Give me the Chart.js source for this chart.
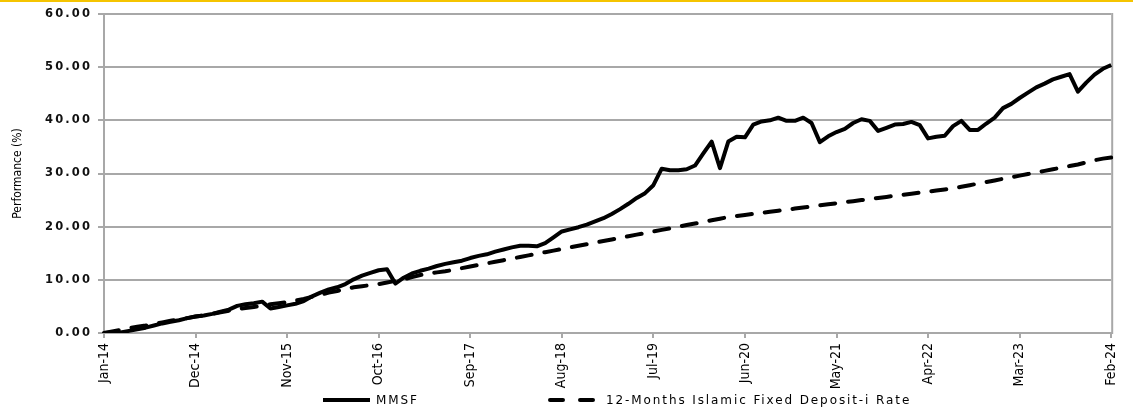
<!DOCTYPE html>
<html>
<head>
<meta charset="utf-8">
<script src="https://cdn.jsdelivr.net/npm/chart.js@4.4.1/dist/chart.umd.min.js"></script>
<style>
  html, body { margin: 0; padding: 0; background: #fff; }
  #wrap { position: relative; width: 1133px; height: 409px; }
  #topBar { position: absolute; left: 0; top: 0; width: 1133px; height: 2px; background: #f5c400; }
  canvas { position: absolute; left: 0; top: 0; }
</style>
</head>
<body>
<div id="wrap">
  <canvas id="perfChart" width="1133" height="409"></canvas>
  <div id="topBar"></div>
</div>
<script>
  // series names
  const seriesNames = ['MMSF', '12-Months Islamic Fixed Deposit-i Rate'];

  // labelled ticks on the x axis
  const tickLabels = ['Jan-14', 'Dec-14', 'Nov-15', 'Oct-16', 'Sep-17', 'Aug-18',
                      'Jul-19', 'Jun-20', 'May-21', 'Apr-22', 'Mar-23', 'Feb-24'];

  // y axis ticks
  const yTicks = [0, 10, 20, 30, 40, 50, 60];

  // cumulative performance (%), monthly Jan-14 .. Feb-24
  const mmsf = [
    0.0, 0.1, 0.1, 0.4, 0.7, 1.0, 1.4, 1.8, 2.1, 2.4,
    2.8, 3.1, 3.3, 3.6, 4.0, 4.4, 5.1, 5.4, 5.6, 5.9,
    4.6, 4.9, 5.2, 5.5, 6.0, 6.9, 7.6, 8.2, 8.6, 9.2,
    10.1, 10.8, 11.3, 11.8, 12.0, 9.3, 10.4, 11.2, 11.7, 12.1,
    12.6, 13.0, 13.3, 13.6, 14.1, 14.5, 14.8, 15.3, 15.7, 16.1,
    16.4, 16.4, 16.3, 16.9, 18.0, 19.1, 19.5, 19.9, 20.4, 21.0,
    21.6, 22.4, 23.3, 24.3, 25.4, 26.3, 27.8, 30.9, 30.6, 30.6,
    30.8, 31.5, 33.8, 36.0, 31.0, 36.0, 36.9, 36.8, 39.2, 39.8,
    40.0, 40.5, 39.9, 39.9, 40.5, 39.5, 35.9, 37.0, 37.8, 38.4,
    39.5, 40.2, 39.9, 38.0, 38.6, 39.2, 39.3, 39.7, 39.1, 36.6,
    36.9, 37.1, 38.9, 39.9, 38.2, 38.2, 39.4, 40.5, 42.3, 43.1,
    44.2, 45.2, 46.2, 46.9, 47.7, 48.2, 48.7, 45.4, 47.1, 48.6,
    49.7, 50.4
  ];

  const fdRate = [
    0.0, 0.3, 0.6, 0.9, 1.2, 1.4, 1.7, 2.0, 2.3, 2.6,
    2.8, 3.1, 3.3, 3.6, 3.9, 4.2, 4.5, 4.7, 4.9, 5.1,
    5.4, 5.6, 5.8, 6.1, 6.4, 6.8, 7.2, 7.6, 7.9, 8.3,
    8.6, 8.8, 9.0, 9.2, 9.5, 9.8, 10.1, 10.5, 10.9, 11.2,
    11.4, 11.6, 11.9, 12.2, 12.5, 12.8, 13.1, 13.4, 13.7, 14.0,
    14.3, 14.6, 14.9, 15.2, 15.5, 15.8, 16.1, 16.4, 16.7, 17.0,
    17.3, 17.6, 17.9, 18.2, 18.5, 18.8, 19.1, 19.4, 19.7, 20.0,
    20.3, 20.6, 20.9, 21.2, 21.5, 21.8, 22.0, 22.2, 22.4, 22.6,
    22.8, 23.0, 23.2, 23.4, 23.6, 23.8, 24.0, 24.2, 24.4, 24.6,
    24.8, 25.0, 25.2, 25.4, 25.6, 25.8, 26.0, 26.2, 26.4, 26.6,
    26.8, 27.0, 27.2, 27.5, 27.8, 28.1, 28.4, 28.7, 29.0, 29.3,
    29.6, 29.9, 30.2, 30.5, 30.8, 31.1, 31.4, 31.7, 32.1, 32.5,
    32.8, 33.0
  ];

  const monthNames = ['Jan', 'Feb', 'Mar', 'Apr', 'May', 'Jun', 'Jul', 'Aug', 'Sep', 'Oct', 'Nov', 'Dec'];
  const months = mmsf.map((_, i) => monthNames[i % 12] + '-' + (14 + Math.floor(i / 12)));

  const gridGrey = '#a8a8a8';
  const narrowFont = "'Liberation Sans Narrow', 'DejaVu Sans Condensed', 'Roboto Condensed', 'Liberation Sans', sans-serif";

  // wider letter spacing on the y tick labels
  const spacingPlugin = {
    id: 'tickSpacing',
    afterLayout(chart) {
      const s = chart.scales.y;
      if (s._spaced) return;
      const orig = s.drawLabels;
      s.drawLabels = function (area) {
        this.ctx.save();
        this.ctx.letterSpacing = '2.1px';
        orig.call(this, area);
        this.ctx.restore();
      };
      s._spaced = true;
    }
  };

  // right border of the plot area
  const framePlugin = {
    id: 'frame',
    beforeDatasetsDraw(chart) {
      const { ctx, chartArea } = chart;
      ctx.save();
      ctx.strokeStyle = gridGrey;
      ctx.lineWidth = 2;
      ctx.beginPath();
      ctx.moveTo(chartArea.right + 1, chartArea.top - 1);
      ctx.lineTo(chartArea.right + 1, chartArea.bottom + 1);
      ctx.stroke();
      ctx.restore();
    }
  };

  // legend below the axis
  const legendPlugin = {
    id: 'bottomLegend',
    afterDraw(chart) {
      const ctx = chart.ctx;
      const y = 400;
      ctx.save();
      ctx.strokeStyle = '#000';
      ctx.lineWidth = 4;
      ctx.beginPath();
      ctx.moveTo(323, y);
      ctx.lineTo(370, y);
      ctx.stroke();
      ctx.lineCap = 'round';
      ctx.setLineDash([13, 17]);
      ctx.beginPath();
      ctx.moveTo(550, y);
      ctx.lineTo(593, y);
      ctx.stroke();
      ctx.setLineDash([]);
      ctx.font = "12px 'DejaVu Sans'";
      ctx.letterSpacing = '1.9px';
      ctx.fillStyle = '#000';
      ctx.textBaseline = 'middle';
      ctx.fillText(seriesNames[0], 376, y + 1);
      ctx.fillText(seriesNames[1], 606, y + 1);
      ctx.restore();
    }
  };

  const chart = new Chart(document.getElementById('perfChart'), {
    type: 'line',
    data: {
      labels: months,
      datasets: [
        {
          label: seriesNames[0],
          data: mmsf,
          borderColor: '#000',
          borderWidth: 4,
          borderJoinStyle: 'round',
          pointRadius: 0,
          tension: 0,
          fill: false
        },
        {
          label: seriesNames[1],
          data: fdRate,
          borderColor: '#000',
          borderWidth: 4,
          borderDash: [15, 13],
          borderCapStyle: 'round',
          pointRadius: 0,
          tension: 0,
          fill: false
        }
      ]
    },
    options: {
      responsive: false,
      animation: false,
      devicePixelRatio: 1,
      layout: { padding: { left: 0, right: 12, top: 14, bottom: 0 } },
      plugins: {
        legend: { display: false },
        tooltip: { enabled: false }
      },
      scales: {
        x: {
          type: 'category',
          offset: false,
          afterFit: (s) => { s.height = 76; },
          grid: {
            drawOnChartArea: false,
            drawTicks: true,
            tickLength: 5,
            lineWidth: 2,
            color: (c) => (c.tick && c.tick.label !== '' ? gridGrey : 'rgba(0,0,0,0)')
          },
          border: { display: true, color: gridGrey, width: 2 },
          ticks: {
            autoSkip: false,
            minRotation: 90,
            maxRotation: 90,
            padding: 5,
            color: '#000',
            font: { family: narrowFont, size: 14 },
            callback: function (value) {
              const lab = this.getLabelForValue(value);
              return tickLabels.includes(lab) ? lab : '';
            }
          }
        },
        y: {
          min: yTicks[0],
          max: yTicks[yTicks.length - 1],
          afterFit: (s) => { s.width = 104; },
          afterBuildTicks: (s) => { s.ticks = yTicks.map(v => ({ value: v })); },
          grid: {
            color: gridGrey,
            lineWidth: 2,
            drawTicks: true,
            tickLength: 6
          },
          border: { display: true, color: gridGrey, width: 2 },
          ticks: {
            padding: 6,
            color: '#111',
            font: { family: "'DejaVu Sans'", size: 11.5, weight: 'bold' },
            callback: (v) => Number(v).toFixed(2)
          },
          title: {
            display: true,
            text: 'Performance (%)',
            color: '#000',
            padding: { top: 11, bottom: 0 },
            font: { family: narrowFont, size: 12 }
          }
        }
      }
    },
    plugins: [spacingPlugin, framePlugin, legendPlugin]
  });
</script>
</body>
</html>
